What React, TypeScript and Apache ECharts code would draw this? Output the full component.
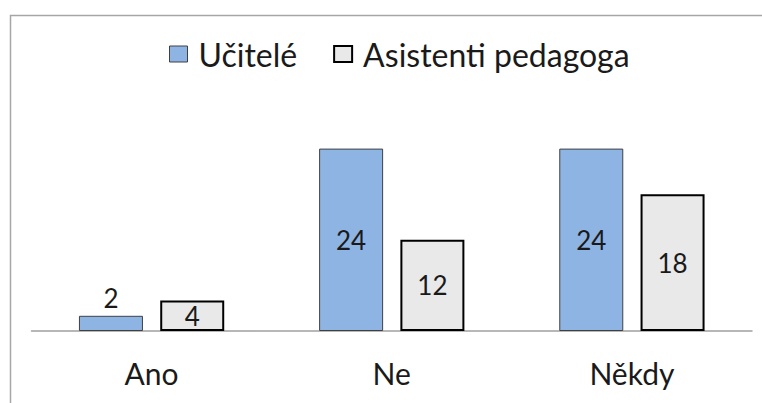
import React, { useEffect, useRef } from "react";
import * as echarts from "echarts";

const categories = ["Ano", "Ne", "Někdy"];
const seriesNames = ["Učitelé", "Asistenti pedagoga"];
const teachers = [2, 24, 24];
const assistants = [4, 12, 18];

const FONT = "Lato, 'Open Sans', sans-serif";

export default function App() {
  const ref = useRef<HTMLDivElement>(null);
  useEffect(() => {
    if (!ref.current) return;
    const chart = echarts.init(ref.current, null, { renderer: "svg" });
    const labelFor = (v: number) => ({
      show: true,
      position: v < 3 ? "top" : "inside",
      distance: 5,
      color: "#1a1a1a",
      fontSize: 26,
      fontFamily: FONT,
    });
    chart.setOption({
      animation: false,
      backgroundColor: "#ffffff",
      textStyle: { fontFamily: FONT },
      graphic: [
        {
          type: "rect",
          shape: { x: 10.5, y: 15.5, width: 800, height: 500 },
          style: { fill: "none", stroke: "#a6a6a6", lineWidth: 1.5 },
          silent: true,
          z: -1,
        },
      ],
      legend: {
        left: 164,
        top: 33,
        icon: "rect",
        itemWidth: 18,
        itemHeight: 16,
        itemGap: 36,
        textStyle: { fontSize: 32, fontFamily: FONT, color: "#1a1a1a", padding: [0, 0, 0, 6] },
        data: [
          { name: seriesNames[0], itemStyle: { color: "#8eb4e3", borderColor: "#404040", borderWidth: 1 } },
          { name: seriesNames[1], itemStyle: { color: "#e9e9e9", borderColor: "#000", borderWidth: 2 } },
        ],
      },
      grid: { left: 31.5, right: 10, top: 103, bottom: 72, containLabel: false },
      xAxis: {
        type: "category",
        data: categories,
        axisLine: { show: true, lineStyle: { color: "#a0a0a0", width: 1.5 } },
        axisTick: { show: false },
        axisLabel: { fontSize: 30, fontFamily: FONT, color: "#1a1a1a", margin: 27 },
      },
      yAxis: {
        type: "value",
        min: 0,
        max: 30,
        show: false,
        splitLine: { show: false },
      },
      series: [
        {
          name: seriesNames[0],
          type: "bar",
          barWidth: 64,
          barGap: "27%",
          itemStyle: { color: "#8eb4e3", borderColor: "#404040", borderWidth: 1 },
          data: teachers.map((v) => ({ value: v, label: labelFor(v) })),
        },
        {
          name: seriesNames[1],
          type: "bar",
          barWidth: 64,
          barGap: "27%",
          itemStyle: { color: "#e9e9e9", borderColor: "#000", borderWidth: 2 },
          data: assistants.map((v) => ({ value: v, label: labelFor(v) })),
        },
      ],
    });
    return () => chart.dispose();
  }, []);
  return (
    <div
      ref={ref}
      style={{ position: "fixed", left: 0, top: 0, width: 762, height: 403 }}
    />
  );
}
